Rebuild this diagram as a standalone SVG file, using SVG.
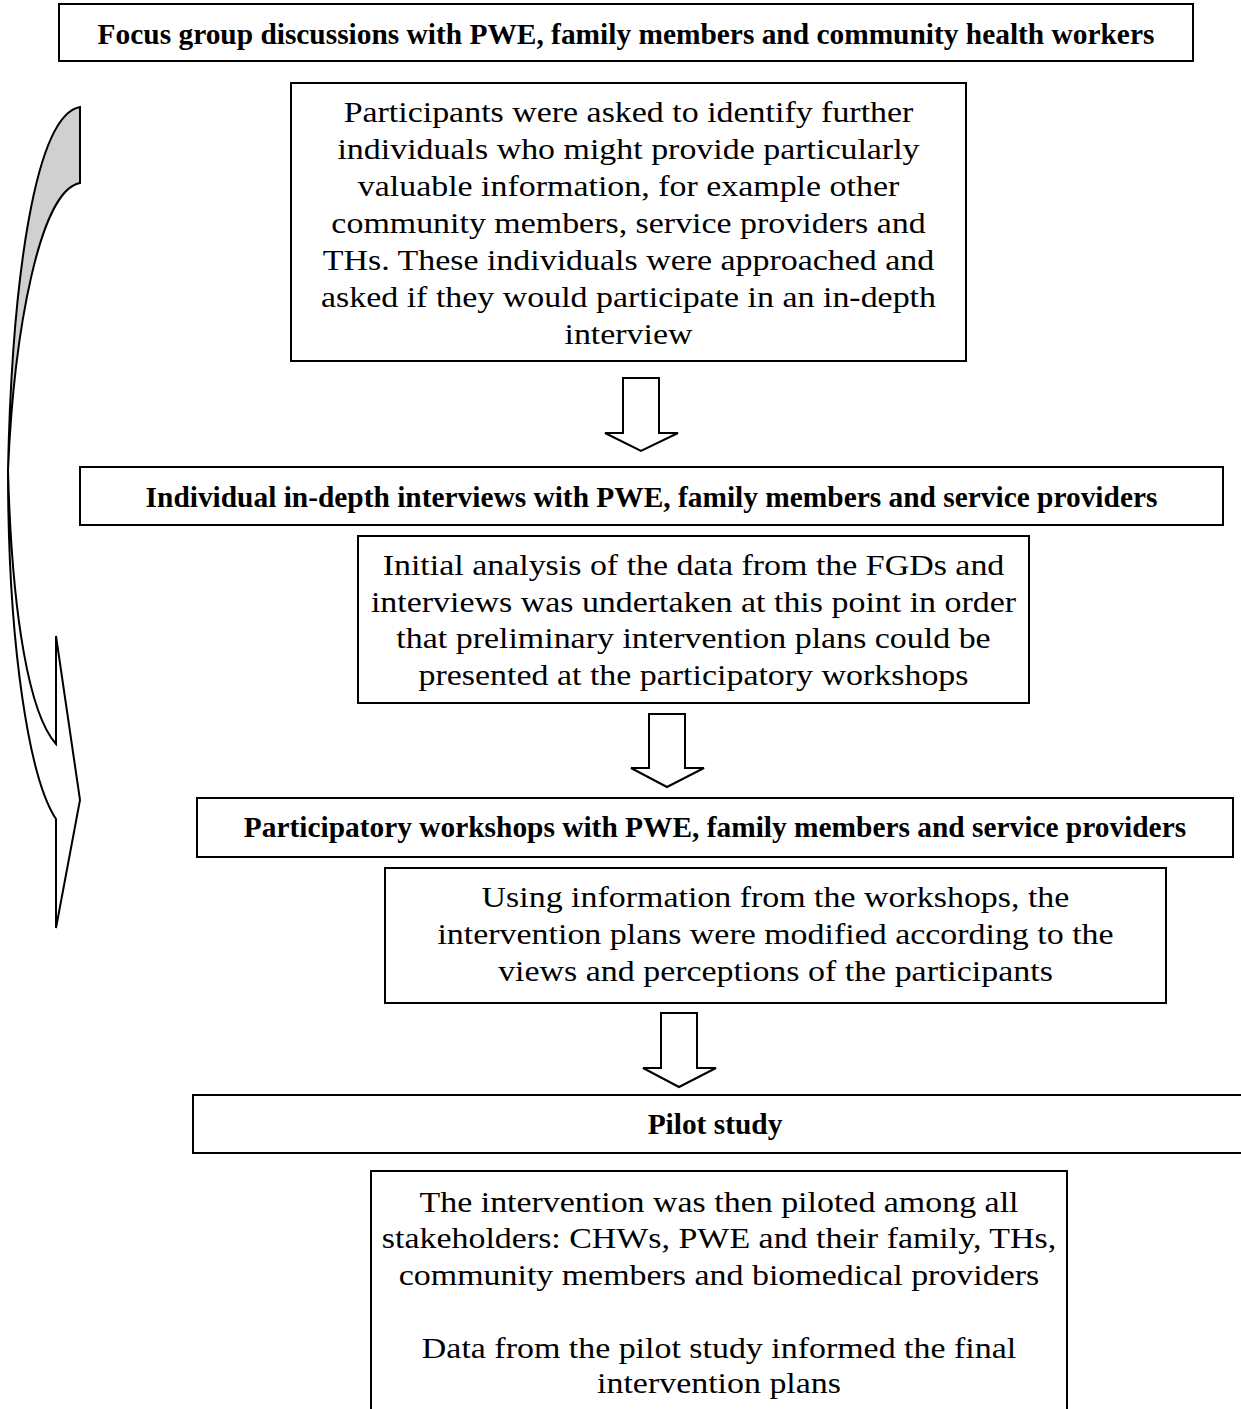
<svg xmlns="http://www.w3.org/2000/svg" width="1241" height="1409" viewBox="0 0 1241 1409">
<style>
.box{fill:#fff;stroke:#000;stroke-width:2}
.h{font-family:"Liberation Serif",serif;font-weight:bold;font-size:29.4px;text-anchor:middle;fill:#000}
.t{font-family:"Liberation Serif",serif;font-size:29px;text-anchor:middle;fill:#000}
.ba{fill:#fff;stroke:#000;stroke-width:2;stroke-linejoin:miter}
</style>
<rect width="1241" height="1409" fill="#fff"/>
<g id="connectors">
<path d="M80,107 C35,115 12,280 8,470 C14,330 40,190 80,183 Z" fill="#d0d0d0" stroke="#000" stroke-width="2"/>
<path d="M8,470 C8,650 30,780 56,819 L56,928 L80,800 L56,636 L56,744 C30,715 12,620 8,470 Z" class="ba"/>
<path d="M623,378 L659,378 L659,433 L678,433 L641,451 L605,433 L623,433 Z" class="ba"/>
<path d="M649,714 L685,714 L685,768 L704,768 L667,787 L631,768 L649,768 Z" class="ba"/>
<path d="M661,1013 L697,1013 L697,1068 L716,1068 L679,1087 L643,1068 L661,1068 Z" class="ba"/>
</g>
<g id="n1">
<rect class="box" x="59" y="4" width="1134" height="57"/>
<text class="h" x="626" y="44">Focus group discussions with PWE, family members and community health workers</text>
</g>
<g id="n2">
<rect class="box" x="291" y="83" width="675" height="278"/>
<g transform="translate(628.5,0) scale(1.17,1)">
<text class="t" x="0" y="122">Participants were asked to identify further</text>
<text class="t" x="0" y="159">individuals who might provide particularly</text>
<text class="t" x="0" y="196">valuable information, for example other</text>
<text class="t" x="0" y="233">community members, service providers and</text>
<text class="t" x="0" y="270">THs. These individuals were approached and</text>
<text class="t" x="0" y="307">asked if they would participate in an in-depth</text>
<text class="t" x="0" y="344">interview</text>
</g>
</g>
<g id="n3">
<rect class="box" x="80" y="467" width="1143" height="58"/>
<text class="h" x="651.5" y="507">Individual in-depth interviews with PWE, family members and service providers</text>
</g>
<g id="n4">
<rect class="box" x="358" y="536" width="671" height="167"/>
<g transform="translate(693.5,0) scale(1.17,1)">
<text class="t" x="0" y="575">Initial analysis of the data from the FGDs and</text>
<text class="t" x="0" y="612">interviews was undertaken at this point in order</text>
<text class="t" x="0" y="648">that preliminary intervention plans could be</text>
<text class="t" x="0" y="685">presented at the participatory workshops</text>
</g>
</g>
<g id="n5">
<rect class="box" x="197" y="798" width="1036" height="59"/>
<text class="h" x="715" y="837">Participatory workshops with PWE, family members and service providers</text>
</g>
<g id="n6">
<rect class="box" x="385" y="868" width="781" height="135"/>
<g transform="translate(775.5,0) scale(1.17,1)">
<text class="t" x="0" y="907">Using information from the workshops, the</text>
<text class="t" x="0" y="944">intervention plans were modified according to the</text>
<text class="t" x="0" y="981">views and perceptions of the participants</text>
</g>
</g>
<g id="n7">
<rect class="box" x="193" y="1095" width="1060" height="58"/>
<text class="h" x="715" y="1134">Pilot study</text>
</g>
<g id="n8">
<rect class="box" x="371" y="1171" width="696" height="260"/>
<g transform="translate(719,0) scale(1.17,1)">
<text class="t" x="0" y="1212">The intervention was then piloted among all</text>
<text class="t" x="0" y="1248">stakeholders: CHWs, PWE and their family, THs,</text>
<text class="t" x="0" y="1285">community members and biomedical providers</text>
<text class="t" x="0" y="1358">Data from the pilot study informed the final</text>
<text class="t" x="0" y="1393">intervention plans</text>
</g>
</g>
</svg>
